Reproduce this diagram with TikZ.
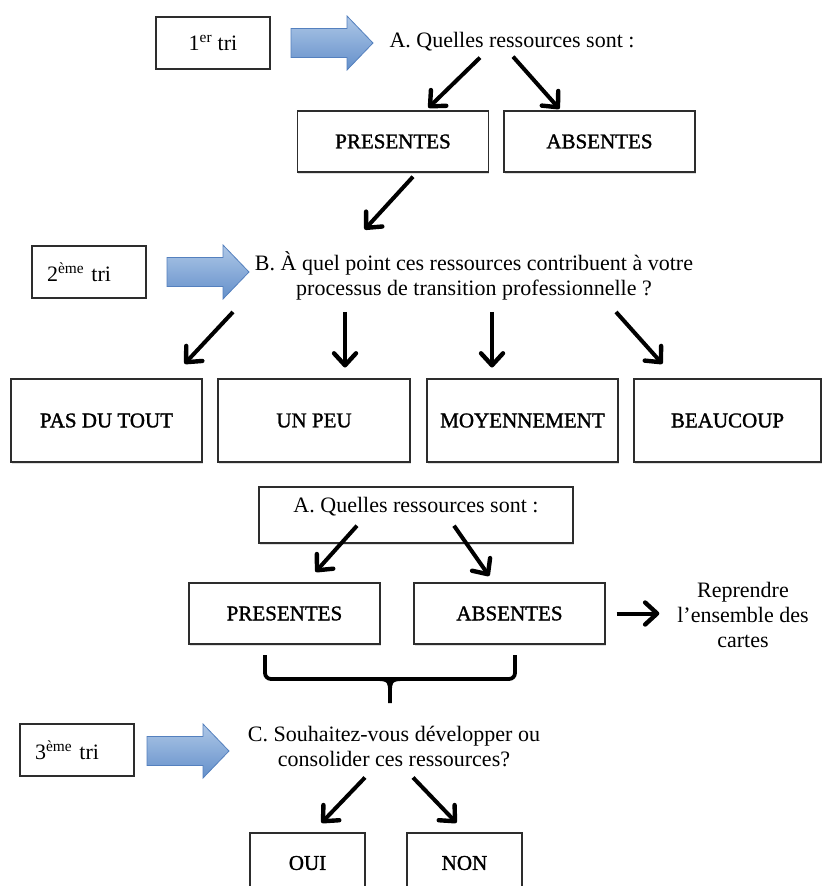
\documentclass[tikz,border=0pt]{standalone}
\usepackage{fontspec}
\setmainfont{Liberation Serif}
\newfontfamily\etiquette[FakeBold=1.4]{Liberation Serif}
\usepackage{tikz}
\usepackage{xcolor}
\usetikzlibrary{arrows.meta,positioning,shadows,decorations.markings,calc}

\definecolor{bordgris}{RGB}{45,45,45}
\definecolor{bleuhaut}{RGB}{174,199,231}
\definecolor{bleubas}{RGB}{100,144,202}
\definecolor{bleubord}{RGB}{84,128,190}

\begin{document}
\begin{tikzpicture}[x=1pt,y=-1pt,
  every node/.style={font=\fontsize{22}{25}\selectfont, inner sep=0pt},
  cadre/.style={draw=bordgris, line width=1.4pt, minimum width=114pt, minimum height=52pt},
  trigauche/.style={align=left, text width=84pt, inner xsep=15pt},
  boite/.style={draw=bordgris, line width=1.4pt, fill=white, minimum width=191pt, minimum height=61pt,
    font=\etiquette\fontsize{21}{25}\selectfont,
    drop shadow={shadow xshift=0.8pt, shadow yshift=-1.8pt, opacity=0.25}},
  fleche/.style={line width=4pt, postaction={decorate},
    decoration={markings, mark=at position 1 with {
      \draw[line width=4.4pt, line cap=round, line join=round] (-12pt,-11pt) -- (0pt,0pt) -- (-12pt,11pt);}}},
  blocbleu/.style={top color=bleuhaut, bottom color=bleubas, draw=bleubord, line width=0.8pt}]
  \useasboundingbox (0,0) rectangle (822,886);
  \clip (0,0) rectangle (822,886);

  % fleches bleues des tris
  \foreach \x/\y in {291/43,167/272,147/751}{
    \draw[blocbleu] (\x,\y-14.5) -- ++(56,0) -- ++(0,-12.5) -- ++(26,27)
      -- ++(-26,27) -- ++(0,-12.5) -- ++(-56,0) -- cycle;
  }

  % 1er tri
  \node[cadre] (tri1) at (213,43) {1\textsuperscript{er} tri};
  \node (qA) at (512,42) {A. Quelles ressources sont :};
  \node[boite] (pres1) at (393,141.5) {PRESENTES};
  \node[boite] (abs1) at (599.5,141.5) {ABSENTES};
  \draw[fleche] ([shift={(-32,6)}]qA.south) -- ([shift={(37,-4)}]pres1.north);
  \draw[fleche] ([shift={(1,5)}]qA.south) -- ([shift={(-41.5,-3)}]abs1.north);

  % 2eme tri
  \node[cadre,trigauche] (tri2) at (89,272) {2\textsuperscript{ème} tri};
  \node[align=center] (qB) at (474,275.5)
    {B. À quel point ces ressources contribuent à votre\\processus de transition professionnelle ?};
  \draw[fleche] ([shift={(20,4)}]pres1.south) -- ([shift={(-108,-23)}]qB.north);

  \node[boite,minimum height=83pt] (pas) at (106.5,420.5) {PAS DU TOUT};
  \node[boite,minimum height=83pt,minimum width=192pt] (unpeu) at (314,420.5) {UN PEU};
  \node[boite,minimum height=83pt] (moy) at (522.5,420.5) {MOYENNEMENT};
  \node[boite,minimum height=83pt,minimum width=187pt] (beau) at (727.5,420.5) {BEAUCOUP};
  \foreach \dx/\cible/\ex/\ey in {-241/pas/79.5/-16,-129/unpeu/31/-13,18/moy/-30.5/-13,142/beau/-66.5/-16}{
    \draw[fleche] ([shift={(\dx,12)}]qB.south) -- ([shift={(\ex,\ey)}]\cible.north);
  }

  % reprise des cartes
  \node[boite,minimum width=314pt,minimum height=56pt,text height=15pt,text depth=21pt,
    inner ysep=10pt,font=\fontsize{22}{25}\selectfont] (qA2) at (416,515) {A. Quelles ressources sont :};
  \node[boite] (pres2) at (284.5,613.5) {PRESENTES};
  \node[boite] (abs2) at (509.5,613.5) {ABSENTES};
  \draw[fleche] ([shift={(-59,-18)}]qA2.south) -- ([shift={(32.5,-12)}]pres2.north);
  \draw[fleche] ([shift={(38,-18)}]qA2.south) -- ([shift={(-21.5,-8)}]abs2.north);
  \node[align=center] (reprise) at (743,615) {Reprendre\\l’ensemble des\\cartes};
  \draw[fleche] ([xshift=11pt]abs2.east) -- ($(reprise.west |- abs2.east)+(-20,0)$);

  % accolade
  \draw[line width=3.8pt,rounded corners=6pt] (265,655) -- (265,679) -- (515,679) -- (515,655);
  \draw[line width=3.8pt] (378,679) .. controls (390,679) and (390,683) .. (390,692) -- (390,703);
  \draw[line width=3.8pt] (402,679) .. controls (390,679) and (390,683) .. (390,692);

  % 3eme tri
  \node[cadre,trigauche] (tri3) at (77,750) {3\textsuperscript{ème} tri};
  \node[align=center] (qC) at (394,746) {C. Souhaitez-vous développer ou\\consolider ces ressources?};
  \node[boite,minimum width=115pt,minimum height=60pt] (oui) at (307.5,863) {OUI};
  \node[boite,minimum width=115pt,minimum height=60pt] (non) at (464.5,863) {NON};
  \draw[fleche] ([shift={(-29,11)}]qC.south) -- ([shift={(15.5,-11)}]oui.north);
  \draw[fleche] ([shift={(19,11)}]qC.south) -- ([shift={(-9.5,-11)}]non.north);
\end{tikzpicture}
\end{document}
